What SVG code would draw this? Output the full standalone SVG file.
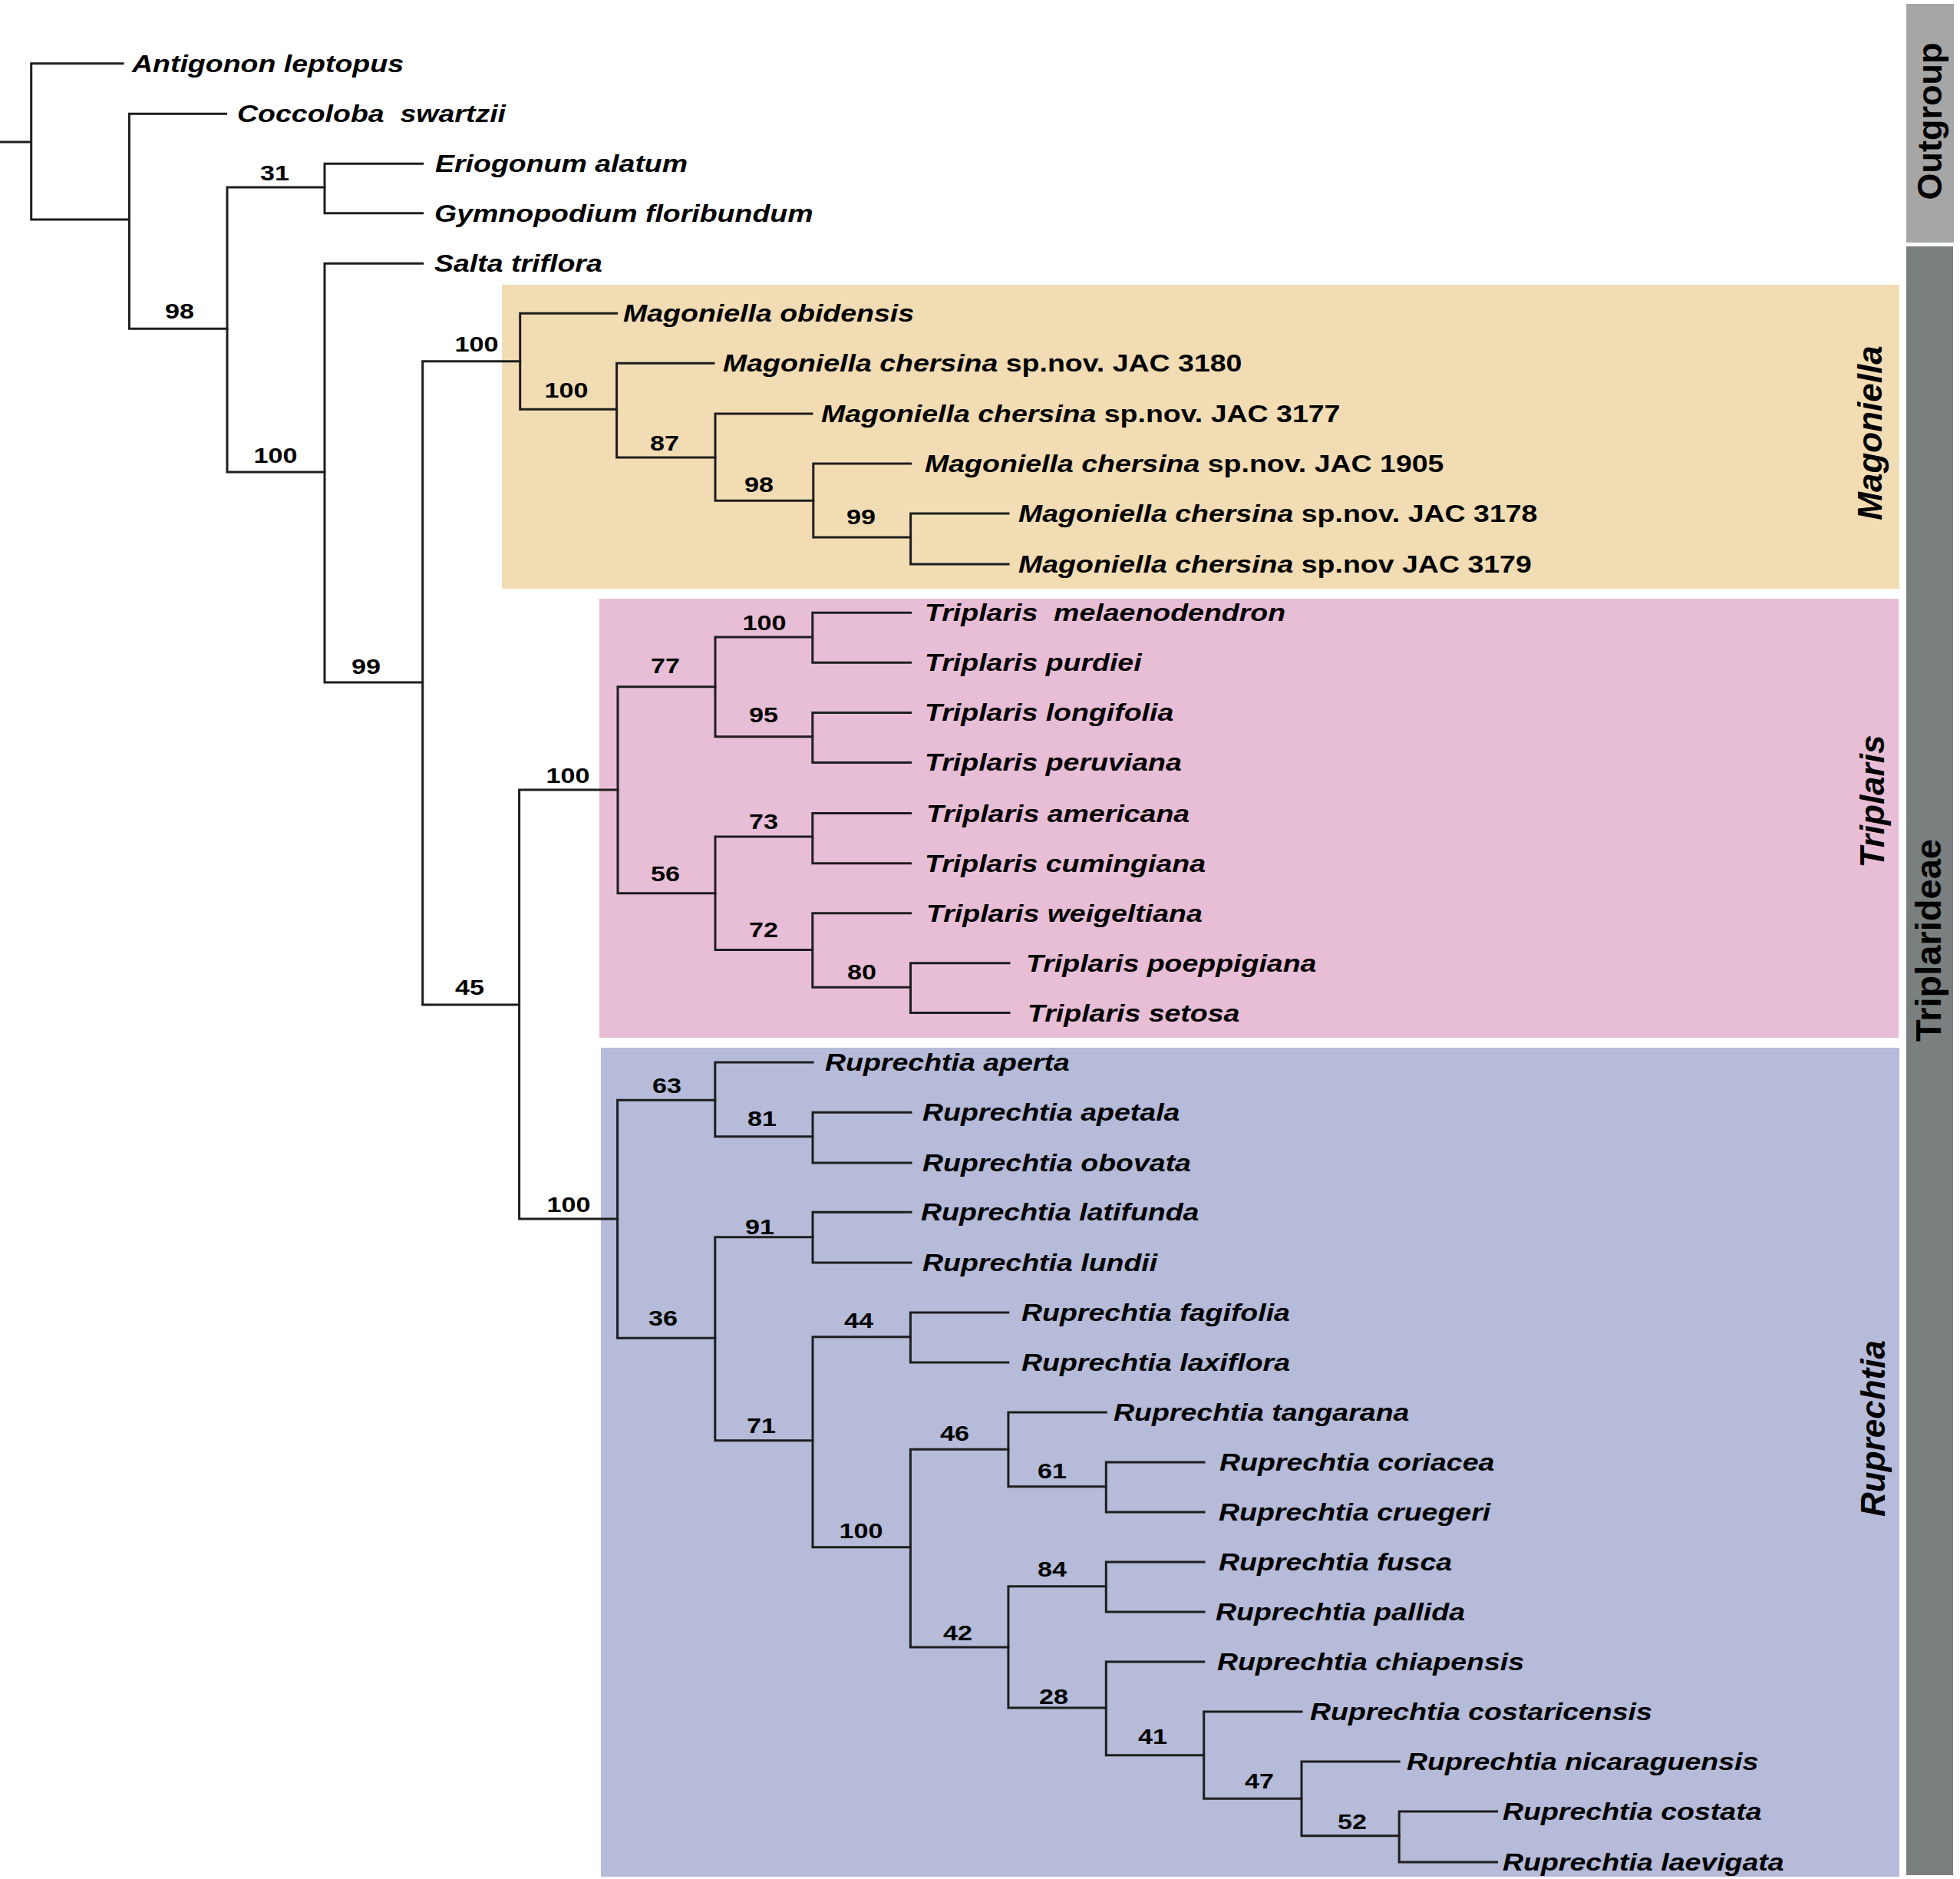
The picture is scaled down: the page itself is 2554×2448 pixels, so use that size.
<svg xmlns="http://www.w3.org/2000/svg" width="2554" height="2448" viewBox="0 0 2554 2448">
<style>
.br{fill:none;stroke:#1e1e1e;stroke-width:3;stroke-linecap:square}
.tx{font-family:"Liberation Sans",Arial,sans-serif;font-weight:bold;font-style:italic;font-size:31px;fill:#000;white-space:pre}
.tx .r{font-style:normal}
.bs{font-family:"Liberation Sans",Arial,sans-serif;font-weight:bold;font-size:28px;fill:#000;text-anchor:middle}
.cl{font-family:"Liberation Sans",Arial,sans-serif;font-weight:bold;font-style:italic;font-size:44px;fill:#000;text-anchor:middle}
.gp{font-family:"Liberation Sans",Arial,sans-serif;font-weight:bold;font-size:45px;fill:#000;text-anchor:middle}
</style>
<rect width="2554" height="2448" fill="#ffffff"/>

<g id="clade-boxes">
  <g id="box-magoniella"><rect x="654" y="371" width="1821" height="396" fill="#f2dcb4"/>
    <text class="cl" transform="translate(2452,564) rotate(-90)">Magoniella</text></g>
  <g id="box-triplaris"><rect x="781" y="780" width="1693" height="572" fill="#e8bed6"/>
    <text class="cl" transform="translate(2455,1044) rotate(-90)">Triplaris</text></g>
  <g id="box-ruprechtia"><rect x="783" y="1365" width="1692" height="1080" fill="#b5bbd8"/>
    <text class="cl" transform="translate(2456,1861) rotate(-90)">Ruprechtia</text></g>
  <g id="bar-outgroup"><rect x="2484" y="5" width="62" height="311" fill="#a6a6a6"/>
    <text class="gp" transform="translate(2530,158) rotate(-90)">Outgroup</text></g>
  <g id="bar-triplarideae"><rect x="2484" y="321" width="61" height="2122" fill="#7a7f7f"/>
    <text class="gp" style="font-size:47px" transform="translate(2529,1225) rotate(-90)">Triplarideae</text></g>
</g>

<g id="connectors" class="br">
  <path d="M0,185H40.7M40.7,82.7V286M40.7,82.7H160M40.7,286H168.4"/>
  <path d="M168.4,148.3V428.3M168.4,148.3H294.6M168.4,428.3H296"/>
  <path d="M296,244V615M296,244H423M296,615H423"/>
  <path d="M423,213.3V277.7M423,213.3H550.7M423,277.7H550.7"/>
  <path d="M423,343.3V889M423,343.3H550.7M423,889H550.7"/>
  <path d="M550.7,470.7V1309M550.7,470.7H677.7M550.7,1309H676.6"/>
  <path d="M677.7,408.3V533.3M677.7,408.3H803.6M677.7,533.3H803.6"/>
  <path d="M803.6,473.3V596M803.6,473.3H930M803.6,596H932"/>
  <path d="M932,539V652.3M932,539H1058M932,652.3H1059.8"/>
  <path d="M1059.8,604V700M1059.8,604H1186.6M1059.8,700H1186.6"/>
  <path d="M1186.6,669V735M1186.6,669H1314M1186.6,735H1314"/>
  <path d="M676.6,1029V1588M676.6,1029H805M676.6,1588H804.6"/>
  <path d="M805,894.7V1163.7M805,894.7H932M805,1163.7H932"/>
  <path d="M932,830V959.8M932,830H1058.8M932,959.8H1058.8"/>
  <path d="M1058.8,798.3V863.3M1058.8,798.3H1186.5M1058.8,863.3H1186.5"/>
  <path d="M1058.8,928.4V993.4M1058.8,928.4H1186.5M1058.8,993.4H1186.5"/>
  <path d="M932,1089.9V1237.6M932,1089.9H1058.8M932,1237.6H1058.8"/>
  <path d="M1058.8,1059.6V1124.7M1058.8,1059.6H1186.5M1058.8,1124.7H1186.5"/>
  <path d="M1058.8,1189.7V1286.2M1058.8,1189.7H1186.5M1058.8,1286.2H1186.5"/>
  <path d="M1186.5,1254.8V1319.5M1186.5,1254.8H1315M1186.5,1319.5H1315"/>
  <path d="M804.6,1433.3V1743.3M804.6,1433.3H931.8M804.6,1743.3H931.8"/>
  <path d="M931.8,1384V1480.7M931.8,1384H1059M931.8,1480.7H1059"/>
  <path d="M1059,1449.3V1515M1059,1449.3H1187M1059,1515H1187"/>
  <path d="M931.8,1611.7V1876.7M931.8,1611.7H1059M931.8,1876.7H1059"/>
  <path d="M1059,1579.3V1645M1059,1579.3H1187M1059,1645H1187"/>
  <path d="M1059,1741.7V2015.7M1059,1741.7H1186.4M1059,2015.7H1186.4"/>
  <path d="M1186.4,1710V1775M1186.4,1710H1313.7M1186.4,1775H1313.7"/>
  <path d="M1186.4,1888.3V2146M1186.4,1888.3H1313.9M1186.4,2146H1313.9"/>
  <path d="M1313.9,1840V1936.7M1313.9,1840H1441.3M1313.9,1936.7H1441.3"/>
  <path d="M1441.3,1905V1970M1441.3,1905H1569M1441.3,1970H1569"/>
  <path d="M1313.9,2066.7V2225M1313.9,2066.7H1441.3M1313.9,2225H1441.3"/>
  <path d="M1441.3,2035V2100M1441.3,2035H1569M1441.3,2100H1569"/>
  <path d="M1441.3,2165V2286.7M1441.3,2165H1568.7M1441.3,2286.7H1568.7"/>
  <path d="M1568.7,2230V2343.3M1568.7,2230H1696M1568.7,2343.3H1696"/>
  <path d="M1696,2295V2391.7M1696,2295H1823.2M1696,2391.7H1823.2"/>
  <path d="M1823.2,2360V2426M1823.2,2360H1950.5M1823.2,2426H1950.5"/>
</g>

<g id="support-values">
  <g id="n31"><text class="bs" transform="matrix(1.22,0,0,1,358,235)">31</text></g>
  <g id="n98a"><text class="bs" transform="matrix(1.22,0,0,1,234,415)">98</text></g>
  <g id="n100a"><text class="bs" transform="matrix(1.22,0,0,1,359,603)">100</text></g>
  <g id="n99a"><text class="bs" transform="matrix(1.22,0,0,1,477,878)">99</text></g>
  <g id="n100mag"><text class="bs" transform="matrix(1.22,0,0,1,621,458)">100</text></g>
  <g id="n100mag2"><text class="bs" transform="matrix(1.22,0,0,1,738,518)">100</text></g>
  <g id="n87"><text class="bs" transform="matrix(1.22,0,0,1,866,587)">87</text></g>
  <g id="n98b"><text class="bs" transform="matrix(1.22,0,0,1,989,641)">98</text></g>
  <g id="n99b"><text class="bs" transform="matrix(1.22,0,0,1,1122,683)">99</text></g>
  <g id="n45"><text class="bs" transform="matrix(1.22,0,0,1,612,1296)">45</text></g>
  <g id="n100tri"><text class="bs" transform="matrix(1.22,0,0,1,740,1020)">100</text></g>
  <g id="n77"><text class="bs" transform="matrix(1.22,0,0,1,867,877)">77</text></g>
  <g id="n100tri2"><text class="bs" transform="matrix(1.22,0,0,1,996,821)">100</text></g>
  <g id="n95"><text class="bs" transform="matrix(1.22,0,0,1,995,941)">95</text></g>
  <g id="n56"><text class="bs" transform="matrix(1.22,0,0,1,867,1148)">56</text></g>
  <g id="n73"><text class="bs" transform="matrix(1.22,0,0,1,995,1080)">73</text></g>
  <g id="n72"><text class="bs" transform="matrix(1.22,0,0,1,995,1221)">72</text></g>
  <g id="n80"><text class="bs" transform="matrix(1.22,0,0,1,1123,1276)">80</text></g>
  <g id="n100rup"><text class="bs" transform="matrix(1.22,0,0,1,741,1579)">100</text></g>
  <g id="n63"><text class="bs" transform="matrix(1.22,0,0,1,869,1424)">63</text></g>
  <g id="n81"><text class="bs" transform="matrix(1.22,0,0,1,993,1467)">81</text></g>
  <g id="n91"><text class="bs" transform="matrix(1.22,0,0,1,990,1608)">91</text></g>
  <g id="n36"><text class="bs" transform="matrix(1.22,0,0,1,864,1727)">36</text></g>
  <g id="n44"><text class="bs" transform="matrix(1.22,0,0,1,1119,1730)">44</text></g>
  <g id="n71"><text class="bs" transform="matrix(1.22,0,0,1,992,1867)">71</text></g>
  <g id="n46"><text class="bs" transform="matrix(1.22,0,0,1,1244,1877)">46</text></g>
  <g id="n61"><text class="bs" transform="matrix(1.22,0,0,1,1371,1926)">61</text></g>
  <g id="n100rup2"><text class="bs" transform="matrix(1.22,0,0,1,1122,2004)">100</text></g>
  <g id="n84"><text class="bs" transform="matrix(1.22,0,0,1,1371,2054)">84</text></g>
  <g id="n42"><text class="bs" transform="matrix(1.22,0,0,1,1248,2137)">42</text></g>
  <g id="n28"><text class="bs" transform="matrix(1.22,0,0,1,1373,2220)">28</text></g>
  <g id="n41"><text class="bs" transform="matrix(1.22,0,0,1,1502,2272)">41</text></g>
  <g id="n47"><text class="bs" transform="matrix(1.22,0,0,1,1641,2330)">47</text></g>
  <g id="n52"><text class="bs" transform="matrix(1.22,0,0,1,1762,2383)">52</text></g>
</g>

<g id="taxa">
  <g id="t-antigonon"><text class="tx" transform="matrix(1.21,0,0,1,172,93.7)">Antigonon leptopus</text></g>
  <g id="t-coccoloba"><text class="tx" transform="matrix(1.21,0,0,1,309,159.3)">Coccoloba  swartzii</text></g>
  <g id="t-eriogonum"><text class="tx" transform="matrix(1.21,0,0,1,567,224.3)">Eriogonum alatum</text></g>
  <g id="t-gymnopodium"><text class="tx" transform="matrix(1.21,0,0,1,566,288.7)">Gymnopodium floribundum</text></g>
  <g id="t-salta"><text class="tx" transform="matrix(1.21,0,0,1,566,354.3)">Salta triflora</text></g>
  <g id="t-mobidensis"><text class="tx" transform="matrix(1.21,0,0,1,812,419.3)">Magoniella obidensis</text></g>
  <g id="t-m3180"><text class="tx" transform="matrix(1.21,0,0,1,942,484.3)">Magoniella chersina<tspan class="r"> sp.nov. JAC 3180</tspan></text></g>
  <g id="t-m3177"><text class="tx" transform="matrix(1.21,0,0,1,1070,550)">Magoniella chersina<tspan class="r"> sp.nov. JAC 3177</tspan></text></g>
  <g id="t-m1905"><text class="tx" transform="matrix(1.21,0,0,1,1205,615)">Magoniella chersina<tspan class="r"> sp.nov. JAC 1905</tspan></text></g>
  <g id="t-m3178"><text class="tx" transform="matrix(1.21,0,0,1,1327,680)">Magoniella chersina<tspan class="r"> sp.nov. JAC 3178</tspan></text></g>
  <g id="t-m3179"><text class="tx" transform="matrix(1.21,0,0,1,1327,746)">Magoniella chersina<tspan class="r"> sp.nov JAC 3179</tspan></text></g>
  <g id="t-tmelaenodendron"><text class="tx" transform="matrix(1.21,0,0,1,1205,809.3)">Triplaris  melaenodendron</text></g>
  <g id="t-tpurdiei"><text class="tx" transform="matrix(1.21,0,0,1,1205,874.3)">Triplaris purdiei</text></g>
  <g id="t-tlongifolia"><text class="tx" transform="matrix(1.21,0,0,1,1205,939.4)">Triplaris longifolia</text></g>
  <g id="t-tperuviana"><text class="tx" transform="matrix(1.21,0,0,1,1205,1004.4)">Triplaris peruviana</text></g>
  <g id="t-tamericana"><text class="tx" transform="matrix(1.21,0,0,1,1207,1070.6)">Triplaris americana</text></g>
  <g id="t-tcumingiana"><text class="tx" transform="matrix(1.21,0,0,1,1205,1135.7)">Triplaris cumingiana</text></g>
  <g id="t-tweigeltiana"><text class="tx" transform="matrix(1.21,0,0,1,1207,1200.7)">Triplaris weigeltiana</text></g>
  <g id="t-tpoeppigiana"><text class="tx" transform="matrix(1.21,0,0,1,1337,1265.8)">Triplaris poeppigiana</text></g>
  <g id="t-tsetosa"><text class="tx" transform="matrix(1.21,0,0,1,1339,1330.5)">Triplaris setosa</text></g>
  <g id="t-raperta"><text class="tx" transform="matrix(1.21,0,0,1,1075,1395)">Ruprechtia aperta</text></g>
  <g id="t-rapetala"><text class="tx" transform="matrix(1.21,0,0,1,1202,1460.3)">Ruprechtia apetala</text></g>
  <g id="t-robovata"><text class="tx" transform="matrix(1.21,0,0,1,1202,1526)">Ruprechtia obovata</text></g>
  <g id="t-rlatifunda"><text class="tx" transform="matrix(1.21,0,0,1,1200,1590.3)">Ruprechtia latifunda</text></g>
  <g id="t-rlundii"><text class="tx" transform="matrix(1.21,0,0,1,1202,1656)">Ruprechtia lundii</text></g>
  <g id="t-rfagifolia"><text class="tx" transform="matrix(1.21,0,0,1,1331,1721)">Ruprechtia fagifolia</text></g>
  <g id="t-rlaxiflora"><text class="tx" transform="matrix(1.21,0,0,1,1331,1786)">Ruprechtia laxiflora</text></g>
  <g id="t-rtangarana"><text class="tx" transform="matrix(1.21,0,0,1,1451,1851)">Ruprechtia tangarana</text></g>
  <g id="t-rcoriacea"><text class="tx" transform="matrix(1.21,0,0,1,1589,1916)">Ruprechtia coriacea</text></g>
  <g id="t-rcruegeri"><text class="tx" transform="matrix(1.21,0,0,1,1588,1981)">Ruprechtia cruegeri</text></g>
  <g id="t-rfusca"><text class="tx" transform="matrix(1.21,0,0,1,1588,2046)">Ruprechtia fusca</text></g>
  <g id="t-rpallida"><text class="tx" transform="matrix(1.21,0,0,1,1584,2111)">Ruprechtia pallida</text></g>
  <g id="t-rchiapensis"><text class="tx" transform="matrix(1.21,0,0,1,1586,2176)">Ruprechtia chiapensis</text></g>
  <g id="t-rcostaricensis"><text class="tx" transform="matrix(1.21,0,0,1,1707,2241)">Ruprechtia costaricensis</text></g>
  <g id="t-rnicaraguensis"><text class="tx" transform="matrix(1.21,0,0,1,1833,2306)">Ruprechtia nicaraguensis</text></g>
  <g id="t-rcostata"><text class="tx" transform="matrix(1.21,0,0,1,1958,2371)">Ruprechtia costata</text></g>
  <g id="t-rlaevigata"><text class="tx" transform="matrix(1.21,0,0,1,1958,2437)">Ruprechtia laevigata</text></g>
</g>
</svg>
